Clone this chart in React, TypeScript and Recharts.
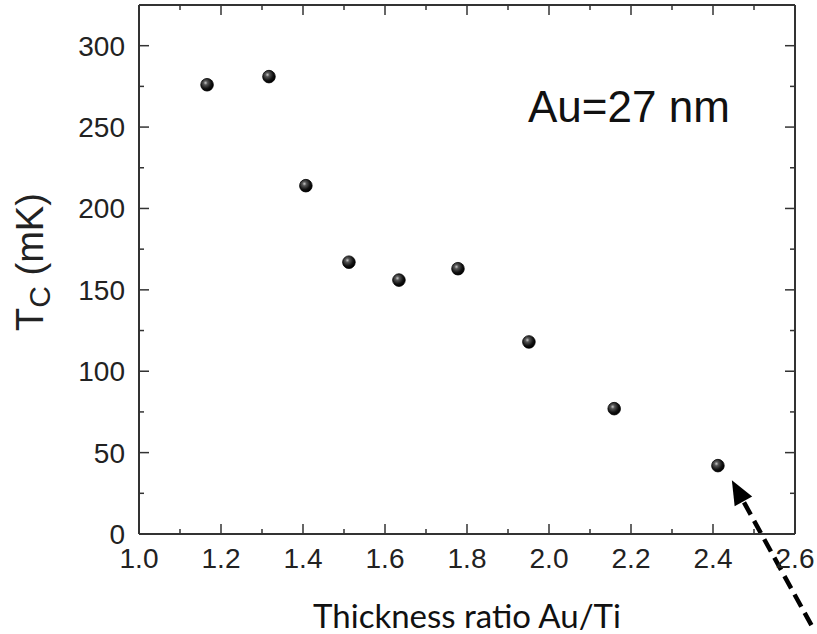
import {
  ScatterChart,
  Scatter,
  XAxis,
  YAxis,
  ReferenceLine,
} from "recharts";

// thickness ratio Au/Ti vs Tc (mK)
const ratio = [1.166, 1.317, 1.407, 1.512, 1.634, 1.778, 1.951, 2.159, 2.412];
const tc = [276, 281, 214, 167, 156, 163, 118, 77, 42];

const xTicks = [1.0, 1.1, 1.2, 1.3, 1.4, 1.5, 1.6, 1.7, 1.8, 1.9, 2.0, 2.1, 2.2, 2.3, 2.4, 2.5, 2.6];
const yTicks = [0, 25, 50, 75, 100, 125, 150, 175, 200, 225, 250, 275, 300];

// dashed arrow pointing at the last sample (start -> tip)
const arrowPath = [
  { x: 2.64, y: -56 },
  { x: 2.446, y: 33 },
];

const data = ratio.map((r, i) => ({ ratio: r, tc: tc[i] }));

const AXIS = "#333333";
const FONT = "'Liberation Sans', Arial, sans-serif";

const isMajorX = (v: number) => Math.round(v * 10) % 2 === 0;
const isMajorY = (v: number) => v % 50 === 0;

const BottomTick = (p: any) => {
  const v = p.payload.value;
  const major = isMajorX(v);
  return (
    <g>
      <line x1={p.x} y1={p.y} x2={p.x} y2={p.y - (major ? 10 : 5)} stroke={AXIS} strokeWidth={1.5} />
      {major && (
        <text x={p.x} y={p.y + 34} textAnchor="middle" fontFamily={FONT} fontSize={28} fill="#222">
          {v.toFixed(1)}
        </text>
      )}
    </g>
  );
};

const TopTick = (p: any) => {
  const major = isMajorX(p.payload.value);
  return <line x1={p.x} y1={p.y} x2={p.x} y2={p.y + (major ? 10 : 5)} stroke={AXIS} strokeWidth={1.5} />;
};

const LeftTick = (p: any) => {
  const v = p.payload.value;
  const major = isMajorY(v);
  return (
    <g>
      <line x1={p.x} y1={p.y} x2={p.x + (major ? 10 : 5)} y2={p.y} stroke={AXIS} strokeWidth={1.5} />
      {major && (
        <text x={p.x - 14} y={p.y + 10} textAnchor="end" fontFamily={FONT} fontSize={28} fill="#222">
          {v}
        </text>
      )}
    </g>
  );
};

const RightTick = (p: any) => {
  const major = isMajorY(p.payload.value);
  return <line x1={p.x} y1={p.y} x2={p.x - (major ? 10 : 5)} y2={p.y} stroke={AXIS} strokeWidth={1.5} />;
};

const Ball = (p: any) => (
  <circle cx={p.cx} cy={p.cy} r={6.3} fill="url(#ball)" stroke="#000" strokeWidth={0.8} />
);

const Nothing = () => <g />;

const Arrow = (p: any) => {
  const { x1, y1, x2, y2 } = p;
  const dx = x2 - x1;
  const dy = y2 - y1;
  const len = Math.sqrt(dx * dx + dy * dy);
  const ux = dx / len;
  const uy = dy / len;
  const head = 24; // arrowhead length
  const half = 10;
  const bx = x2 - ux * head;
  const by = y2 - uy * head;
  const pts = `${x2},${y2} ${bx - uy * half},${by + ux * half} ${bx + uy * half},${by - ux * half}`;
  return (
    <g>
      <line x1={x1} y1={y1} x2={bx + ux * 2} y2={by + uy * 2} stroke="#000" strokeWidth={4.5} strokeDasharray="14 7" />
      <polygon points={pts} fill="#000" />
    </g>
  );
};

const YLabel = () => (
  <text
    x={43}
    y={262}
    transform="rotate(-90, 43, 262)"
    textAnchor="middle"
    fontFamily={FONT}
    fontSize={38}
    fill="#222"
  >
    T
    <tspan fontSize={30} dy={7}>C</tspan>
    <tspan dy={-7}> (mK)</tspan>
  </text>
);

export default function App() {
  return (
    <div style={{ position: "absolute", left: 0, top: 0, background: "#fff" }}>
      <ScatterChart width={817} height={634} margin={{ top: 4, right: 21, left: 0, bottom: 0 }}>
        <defs>
          <radialGradient id="ball" cx="38%" cy="35%" r="65%">
            <stop offset="0%" stopColor="#c8c8c8" />
            <stop offset="25%" stopColor="#555" />
            <stop offset="70%" stopColor="#111" />
            <stop offset="100%" stopColor="#000" />
          </radialGradient>
        </defs>
        <XAxis
          xAxisId="b"
          dataKey="ratio"
          type="number"
          domain={[1.0, 2.6]}
          ticks={xTicks}
          interval={0}
          height={100}
          tickSize={0}
          tickMargin={0}
          tickLine={false}
          axisLine={{ stroke: AXIS, strokeWidth: 2 }}
          tick={BottomTick}
          label={{
            value: "Thickness ratio Au/Ti",
            position: "insideBottom",
            offset: 6,
            fontFamily: "Lato, 'Open Sans', sans-serif",
            fontSize: 33,
            fill: "#111",
          }}
        />
        <XAxis
          xAxisId="t"
          dataKey="ratio"
          orientation="top"
          type="number"
          domain={[1.0, 2.6]}
          ticks={xTicks}
          interval={0}
          height={1}
          tickSize={0}
          tickMargin={0}
          tickLine={false}
          axisLine={{ stroke: AXIS, strokeWidth: 2 }}
          tick={TopTick}
        />
        <YAxis
          yAxisId="l"
          dataKey="tc"
          type="number"
          domain={[0, 325]}
          ticks={yTicks}
          interval={0}
          width={139}
          tickSize={0}
          tickMargin={0}
          tickLine={false}
          axisLine={{ stroke: AXIS, strokeWidth: 2 }}
          tick={LeftTick}
        />
        <YAxis
          yAxisId="r"
          dataKey="tc"
          orientation="right"
          type="number"
          domain={[0, 325]}
          ticks={yTicks}
          interval={0}
          width={1}
          tickSize={0}
          tickMargin={0}
          tickLine={false}
          axisLine={{ stroke: AXIS, strokeWidth: 2 }}
          tick={RightTick}
        />
        {/* mirror axes need a series bound to them to be drawn */}
        <Scatter
          xAxisId="t"
          yAxisId="r"
          data={data}
          shape={Nothing}
          isAnimationActive={false}
        />
        <Scatter
          xAxisId="b"
          yAxisId="l"
          data={data}
          shape={Ball}
          isAnimationActive={false}
        />
        <ReferenceLine
          xAxisId="b"
          yAxisId="l"
          segment={arrowPath}
          ifOverflow="visible"
          shape={Arrow}
        />
        <text x={528} y={122} fontFamily={FONT} fontSize={44} fill="#111">
          Au=27 nm
        </text>
        <YLabel />
      </ScatterChart>
    </div>
  );
}
